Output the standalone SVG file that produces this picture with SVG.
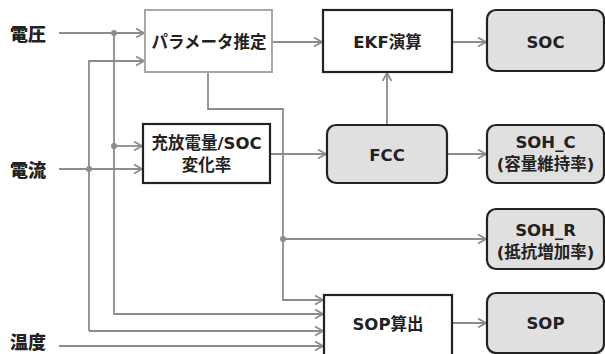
<svg xmlns="http://www.w3.org/2000/svg" width="605" height="354" viewBox="0 0 605 354">
<defs>
<style>
.t{font-family:"DejaVu Sans","Noto Sans CJK JP",sans-serif;font-weight:bold;font-size:16.5px;fill:#222;text-anchor:middle;dominant-baseline:central}
.lbl{font-family:"Noto Sans CJK JP",sans-serif;font-weight:900;font-size:18px;fill:#222;dominant-baseline:central}
.w{fill:#fff;stroke:#222;stroke-width:2.2}
.wg{fill:#fff;stroke:#a8a8a8;stroke-width:2}
.r{fill:#e0e0e0;stroke:#222;stroke-width:2.2}
.c{fill:none;stroke:#8c8c8c;stroke-width:1.8}
.d{fill:#8c8c8c}
</style>
<marker id="a" markerUnits="userSpaceOnUse" markerWidth="12" markerHeight="12" refX="9" refY="5" orient="auto">
<path d="M1,0.5 L9,5 L1,9.5" fill="none" stroke="#8c8c8c" stroke-width="1.8"/>
</marker>
</defs>
<g id="labels">
<text class="lbl" x="10" y="33">電圧</text>
<text class="lbl" x="10" y="169">電流</text>
<text class="lbl" x="10" y="341">温度</text>
</g>
<g id="connectors">
<path class="c" d="M59,33 H144" marker-end="url(#a)"/>
<path class="c" d="M114,33 V314 H323" marker-end="url(#a)"/>
<path class="c" d="M114,146 H142" marker-end="url(#a)"/>
<path class="c" d="M59,169 H142" marker-end="url(#a)"/>
<path class="c" d="M89,331 V61 H144" marker-end="url(#a)"/>
<path class="c" d="M89,331 H323" marker-end="url(#a)"/>
<path class="c" d="M59,346 H323" marker-end="url(#a)"/>
<path class="c" d="M208,73 V109 H283 V300 H323" marker-end="url(#a)"/>
<path class="c" d="M283,239 H486" marker-end="url(#a)"/>
<path class="c" d="M272,42 H322" marker-end="url(#a)"/>
<path class="c" d="M270,154 H326" marker-end="url(#a)"/>
<path class="c" d="M452,42 H486" marker-end="url(#a)"/>
<path class="c" d="M387,124 V73" marker-end="url(#a)"/>
<path class="c" d="M447,154 H486" marker-end="url(#a)"/>
<path class="c" d="M452,323 H486" marker-end="url(#a)"/>
<circle class="d" cx="114" cy="33" r="3"/>
<circle class="d" cx="114" cy="146" r="3"/>
<circle class="d" cx="89" cy="169" r="3"/>
<circle class="d" cx="283" cy="239" r="3"/>
</g>
<g id="param">
<rect class="wg" x="145" y="10" width="127" height="62"/>
<text class="t" x="209" y="42" font-size="16.5">パラメータ推定</text>
</g>
<g id="ekf">
<rect class="w" x="323" y="10" width="129" height="62"/>
<text class="t" x="387.5" y="42">EKF演算</text>
</g>
<g id="soc">
<rect class="r" x="487" y="10" width="117" height="61" rx="9"/>
<text class="t" x="545.5" y="42">SOC</text>
</g>
<g id="charge">
<rect class="w" x="143" y="124" width="127" height="59"/>
<text class="t" x="206.5" y="143">充放電量/SOC</text>
<text class="t" x="206.5" y="165">変化率</text>
</g>
<g id="fcc">
<rect class="r" x="327" y="125" width="120" height="58" rx="9"/>
<text class="t" x="387" y="155">FCC</text>
</g>
<g id="sohc">
<rect class="r" x="487" y="125" width="117" height="58" rx="9"/>
<text class="t" x="545.5" y="142">SOH_C</text>
<text class="t" x="545.5" y="164">(容量維持率)</text>
</g>
<g id="sohr">
<rect class="r" x="487" y="209" width="117" height="60" rx="9"/>
<text class="t" x="545.5" y="230">SOH_R</text>
<text class="t" x="545.5" y="252">(抵抗増加率)</text>
</g>
<g id="sopcalc">
<rect class="w" x="324" y="295" width="128" height="65"/>
<text class="t" x="388" y="324">SOP算出</text>
</g>
<g id="sop">
<rect class="r" x="487" y="293" width="117" height="60" rx="9"/>
<text class="t" x="545.5" y="323">SOP</text>
</g>
</svg>
